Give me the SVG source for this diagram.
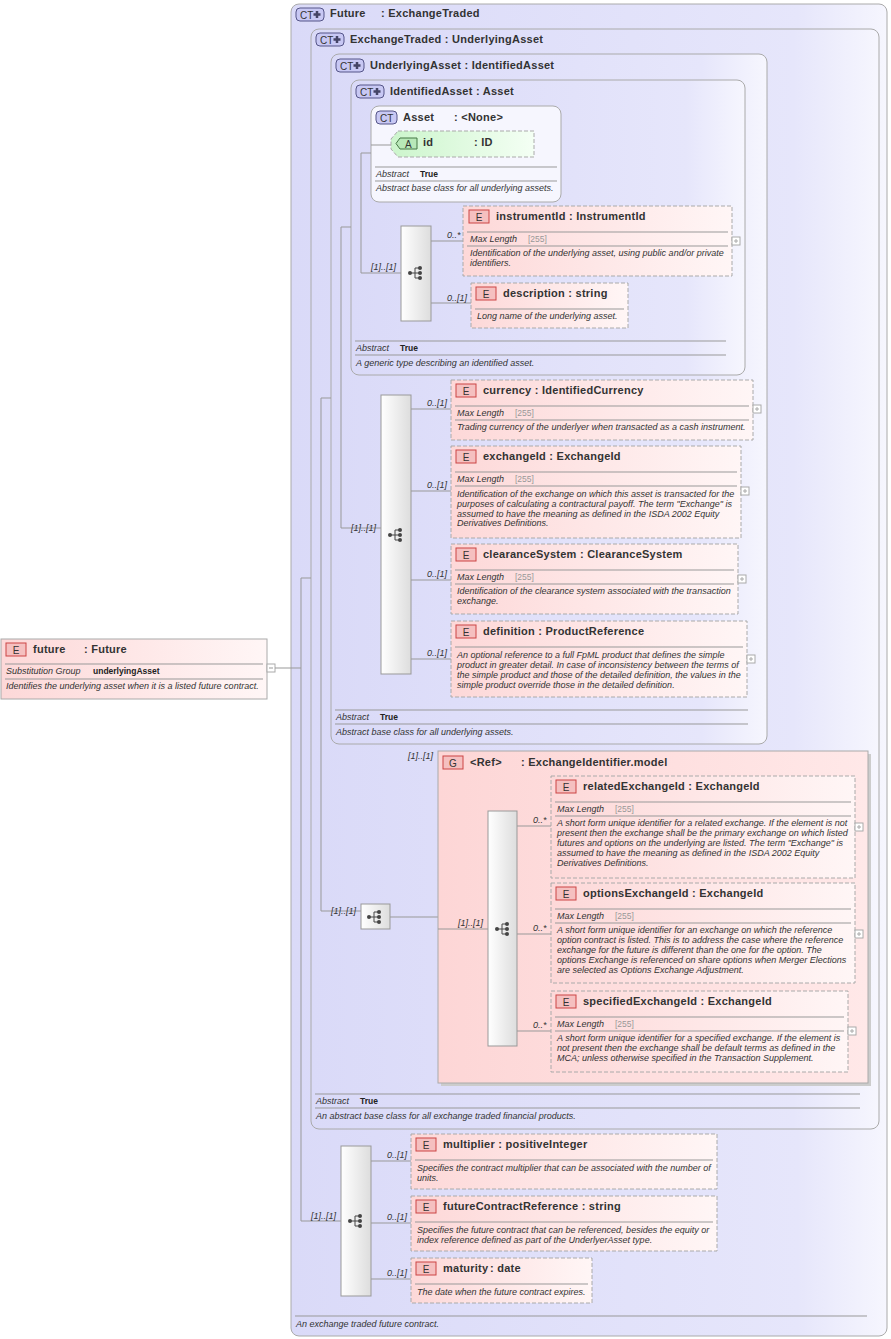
<svg xmlns="http://www.w3.org/2000/svg" xmlns:xlink="http://www.w3.org/1999/xlink" width="891" height="1339" viewBox="0 0 891 1339">
<style>
text{font-family:"Liberation Sans",Arial,sans-serif;fill:#333}
.h{font-size:11px;font-weight:bold;letter-spacing:0.25px}
.s{font-size:9px;font-style:italic}
.b{font-size:8.5px;font-weight:bold;fill:#222}
.g{font-size:8.5px;fill:#999}
.ct{fill:url(#ctg);stroke:#aaa;stroke-width:1}
.el{fill:url(#elg);stroke:#aaa;stroke-width:1;stroke-dasharray:4,2}
.els{fill:url(#elg);stroke:#aaa;stroke-width:1}
.sep{stroke:#999;stroke-width:1}
.cn{stroke:#999;stroke-width:1;fill:none}
.seq{fill:url(#sqg);stroke:#999}
.bd{font-size:10px;fill:#333}
.pl{fill:#fff;stroke:#aaa}
</style>
<defs>
<linearGradient id="ctg" x1="0" x2="1"><stop offset="0" stop-color="#dadaf8"/><stop offset="0.85" stop-color="#e6e6fb"/><stop offset="1" stop-color="#f6f6fe"/></linearGradient>
<linearGradient id="elg" x1="0" x2="1"><stop offset="0" stop-color="#fdd8d8"/><stop offset="1" stop-color="#fff6f6"/></linearGradient>
<linearGradient id="sqg" x1="0" x2="1"><stop offset="0" stop-color="#fff"/><stop offset="1" stop-color="#ddd"/></linearGradient>
<linearGradient id="atg" x1="0" x2="1"><stop offset="0" stop-color="#ccf5cc"/><stop offset="1" stop-color="#f4fff4"/></linearGradient>
<linearGradient id="grg" x1="0" x2="1"><stop offset="0" stop-color="#fdd6d6"/><stop offset="1" stop-color="#ffe8e8"/></linearGradient>
<g id="seqi"><line x1="-6" y1="0" x2="-1" y2="0" stroke="#444"/><line x1="-1" y1="-5" x2="-1" y2="5" stroke="#444"/><line x1="-1" y1="-5" x2="4" y2="-5" stroke="#444"/><line x1="-1" y1="5" x2="4" y2="5" stroke="#444"/><line x1="-1" y1="0" x2="4" y2="0" stroke="#444"/><circle cx="-6" cy="0" r="2" fill="#444"/><circle cx="4" cy="-5" r="2" fill="#444"/><circle cx="4" cy="0" r="2" fill="#444"/><circle cx="4" cy="5" r="2" fill="#444"/></g>
<g id="ebadge"><rect x="0" y="0" width="20" height="13" fill="#f5c0c0" stroke="#c44"/><text x="10" y="10.5" text-anchor="middle" class="bd">E</text></g>
<g id="ctbadge"><rect x="0" y="0" width="28" height="13" rx="4" fill="#c8c8f4" stroke="#558"/><text x="4" y="10.5" class="bd">CT</text><path d="M21 3v7M17.5 6.5h7" stroke="#446" stroke-width="2.5"/></g>
</defs>

<g id="future-el">
<rect x="1" y="639" width="266" height="60" class="els"/>
<use href="#ebadge" x="6" y="643"/>
<text x="33" y="653" class="h">future</text><text x="84" y="653" class="h">: Future</text>
<line x1="5" y1="664" x2="263" y2="664" class="sep"/>
<text x="6" y="674" class="s">Substitution Group</text><text x="93" y="674" class="b">underlyingAsset</text>
<line x1="5" y1="679" x2="263" y2="679" class="sep"/>
<text x="6" y="689" class="s">Identifies the underlying asset when it is a listed future contract.</text>
<rect x="267" y="664" width="8" height="8" class="pl"/><line x1="269" y1="668" x2="273" y2="668" stroke="#999"/>
</g>

<g id="Future-ct">
<rect x="291" y="4" width="596" height="1332" rx="8" class="ct"/>
<use href="#ctbadge" x="296" y="8"/>
<text x="330" y="17" class="h">Future</text><text x="381" y="17" class="h">: ExchangeTraded</text>
<line x1="295" y1="1316" x2="867" y2="1316" class="sep"/>
<text x="296" y="1327" class="s">An exchange traded future contract.</text>
</g>

<g id="ExchangeTraded-ct">
<rect x="311" y="29" width="568" height="1100" rx="8" class="ct"/>
<use href="#ctbadge" x="316" y="33"/>
<text x="350" y="43" class="h">ExchangeTraded : UnderlyingAsset</text>
<line x1="315" y1="1094" x2="860" y2="1094" class="sep"/>
<text x="316" y="1104" class="s">Abstract</text><text x="360" y="1104" class="b">True</text>
<line x1="315" y1="1108" x2="860" y2="1108" class="sep"/>
<text x="316" y="1119" class="s">An abstract base class for all exchange traded financial products.</text>
</g>

<g id="UnderlyingAsset-ct">
<rect x="331" y="54" width="436" height="690" rx="8" class="ct"/>
<use href="#ctbadge" x="336" y="59"/>
<text x="370" y="69" class="h">UnderlyingAsset : IdentifiedAsset</text>
<line x1="335" y1="710" x2="748" y2="710" class="sep"/>
<text x="336" y="720" class="s">Abstract</text><text x="380" y="720" class="b">True</text>
<line x1="335" y1="724" x2="748" y2="724" class="sep"/>
<text x="336" y="735" class="s">Abstract base class for all underlying assets.</text>
</g>

<g id="IdentifiedAsset-ct">
<rect x="351" y="80" width="394" height="295" rx="8" class="ct"/>
<use href="#ctbadge" x="356" y="85"/>
<text x="390" y="95" class="h">IdentifiedAsset : Asset</text>
<line x1="355" y1="341" x2="726" y2="341" class="sep"/>
<text x="356" y="351" class="s">Abstract</text><text x="400" y="351" class="b">True</text>
<line x1="355" y1="355" x2="726" y2="355" class="sep"/>
<text x="356" y="366" class="s">A generic type describing an identified asset.</text>
</g>

<g id="Asset-ct">
<rect x="371" y="106" width="190" height="96" rx="8" fill="#f6f6fe" stroke="#aaa"/>
<rect x="376" y="111" width="21" height="13" rx="4" fill="#c8c8f4" stroke="#558"/><text x="380" y="121.5" class="bd">CT</text>
<text x="403" y="121" class="h">Asset</text><text x="454" y="121" class="h">: &lt;None&gt;</text>
<line x1="375" y1="167" x2="557" y2="167" class="sep"/>
<text x="376" y="177" class="s">Abstract</text><text x="420" y="177" class="b">True</text>
<line x1="375" y1="181" x2="557" y2="181" class="sep"/>
<text x="376" y="191" class="s">Abstract base class for all underlying assets.</text>
</g>

<g id="connectors">
<path class="cn" d="M275 668H301M301 578V1221M301 578H311M301 1221H341"/>
<path class="cn" d="M321 398V911M321 398H331M321 911H361"/>
<path class="cn" d="M341 227V528M341 227H351M341 528H381"/>
<path class="cn" d="M361 153V273M361 153H371M361 273H401M371 145H391"/>
<path class="cn" d="M431 241H463M431 303H471"/>
<path class="cn" d="M411 409H451M411 491H451M411 580H451M411 659H451"/>
<path class="cn" d="M390 917H438M438 929H488M517 826H551M517 934H551M517 1031H551"/>
<path class="cn" d="M371 1161H411M371 1223H411M371 1279H411"/>
</g>

<g id="id-attr">
<path d="M398 131H534V157H398L391 149V139Z" fill="url(#atg)" stroke="#aaa" stroke-dasharray="4,2"/>
<path d="M400 138H417V149H400L396 143.5Z" fill="#b8e8b8" stroke="#474"/>
<text x="405" y="147.5" class="bd">A</text>
<text x="423" y="146" class="h">id</text><text x="474" y="146" class="h">: ID</text>
</g>

<g id="seq1"><rect x="401" y="226" width="30" height="95" class="seq"/><use href="#seqi" x="416" y="273"/><text x="371" y="270" class="s">[1]..[1]</text></g>
<text x="447" y="238" class="s">0..*</text><text x="447" y="301" class="s">0..[1]</text>

<g id="instrumentId">
<rect x="463" y="206" width="269" height="70" class="el"/>
<use href="#ebadge" x="469" y="210"/>
<text x="496" y="220" class="h">instrumentId : InstrumentId</text>
<line x1="467" y1="232" x2="728" y2="232" class="sep"/>
<text x="470" y="242" class="s">Max Length</text><text x="528" y="242" class="g">[255]</text>
<line x1="467" y1="246" x2="728" y2="246" class="sep"/>
<text x="470" y="256" class="s">Identification of the underlying asset, using public and/or private</text>
<text x="470" y="266" class="s">identifiers.</text>
<rect x="732" y="237" width="8" height="8" class="pl"/><path d="M734 241h4M736 239v4" stroke="#aaa"/>
</g>

<g id="description">
<rect x="471" y="283" width="157" height="45" class="el"/>
<use href="#ebadge" x="476" y="287"/>
<text x="503" y="297" class="h">description : string</text>
<line x1="475" y1="309" x2="624" y2="309" class="sep"/>
<text x="477" y="319" class="s">Long name of the underlying asset.</text>
</g>

<g id="seq2"><rect x="381" y="395" width="30" height="279" class="seq"/><use href="#seqi" x="396" y="535"/><text x="351" y="531" class="s">[1]..[1]</text></g>
<text x="427" y="406" class="s">0..[1]</text><text x="427" y="488" class="s">0..[1]</text><text x="427" y="577" class="s">0..[1]</text><text x="427" y="656" class="s">0..[1]</text>

<g id="currency">
<rect x="451" y="380" width="302" height="60" class="el"/>
<use href="#ebadge" x="456" y="384"/>
<text x="483" y="394" class="h">currency : IdentifiedCurrency</text>
<line x1="455" y1="406" x2="749" y2="406" class="sep"/>
<text x="457" y="416" class="s">Max Length</text><text x="515" y="416" class="g">[255]</text>
<line x1="455" y1="420" x2="749" y2="420" class="sep"/>
<text x="457" y="430" class="s">Trading currency of the underlyer when transacted as a cash instrument.</text>
<rect x="753" y="405" width="8" height="8" class="pl"/><path d="M755 409h4M757 407v4" stroke="#aaa"/>
</g>

<g id="exchangeId">
<rect x="451" y="446" width="290" height="92" class="el"/>
<use href="#ebadge" x="456" y="450"/>
<text x="483" y="460" class="h">exchangeId : ExchangeId</text>
<line x1="455" y1="472" x2="737" y2="472" class="sep"/>
<text x="457" y="482" class="s">Max Length</text><text x="515" y="482" class="g">[255]</text>
<line x1="455" y1="486" x2="737" y2="486" class="sep"/>
<text x="457" y="497" class="s">Identification of the exchange on which this asset is transacted for the</text>
<text x="457" y="507" class="s">purposes of calculating a contractural payoff. The term "Exchange" is</text>
<text x="457" y="517" class="s">assumed to have the meaning as defined in the ISDA 2002 Equity</text>
<text x="457" y="526" class="s">Derivatives Definitions.</text>
<rect x="741" y="487" width="8" height="8" class="pl"/><path d="M743 491h4M745 489v4" stroke="#aaa"/>
</g>

<g id="clearanceSystem">
<rect x="451" y="544" width="287" height="70" class="el"/>
<use href="#ebadge" x="456" y="548"/>
<text x="483" y="558" class="h">clearanceSystem : ClearanceSystem</text>
<line x1="455" y1="570" x2="734" y2="570" class="sep"/>
<text x="457" y="580" class="s">Max Length</text><text x="515" y="580" class="g">[255]</text>
<line x1="455" y1="584" x2="734" y2="584" class="sep"/>
<text x="457" y="594" class="s">Identification of the clearance system associated with the transaction</text>
<text x="457" y="604" class="s">exchange.</text>
<rect x="738" y="575" width="8" height="8" class="pl"/><path d="M740 579h4M742 577v4" stroke="#aaa"/>
</g>

<g id="definition">
<rect x="451" y="621" width="296" height="76" class="el"/>
<use href="#ebadge" x="456" y="625"/>
<text x="483" y="635" class="h">definition : ProductReference</text>
<line x1="455" y1="647" x2="743" y2="647" class="sep"/>
<text x="457" y="658" class="s">An optional reference to a full FpML product that defines the simple</text>
<text x="457" y="668" class="s">product in greater detail. In case of inconsistency between the terms of</text>
<text x="457" y="678" class="s">the simple product and those of the detailed definition, the values in the</text>
<text x="457" y="688" class="s">simple product override those in the detailed definition.</text>
<rect x="747" y="655" width="8" height="8" class="pl"/><path d="M749 659h4M751 657v4" stroke="#aaa"/>
</g>

<g id="seq3"><rect x="361" y="904" width="29" height="25" class="seq"/><use href="#seqi" x="375" y="917"/><text x="331" y="914" class="s">[1]..[1]</text></g>

<g id="ExchangeIdentifier-group">
<rect x="441" y="754" width="430" height="332" fill="#ccc"/>
<rect x="438" y="751" width="430" height="332" fill="url(#grg)" stroke="#aaa"/>
<text x="408" y="759" class="s">[1]..[1]</text>
<rect x="443" y="756" width="20" height="13" fill="#f5c0c0" stroke="#c44"/><text x="453" y="766.5" text-anchor="middle" class="bd">G</text>
<text x="470" y="766" class="h">&lt;Ref&gt;</text><text x="521" y="766" class="h">: ExchangeIdentifier.model</text>
<path class="cn" d="M438 929H488"/>
</g>

<g id="seq4"><rect x="488" y="811" width="29" height="235" class="seq"/><use href="#seqi" x="503" y="929"/><text x="458" y="926" class="s">[1]..[1]</text></g>
<path class="cn" d="M517 826H551M517 934H551M517 1031H551"/>
<text x="533" y="823" class="s">0..*</text><text x="533" y="931" class="s">0..*</text><text x="533" y="1028" class="s">0..*</text>

<g id="relatedExchangeId">
<rect x="551" y="776" width="304" height="102" class="el"/>
<use href="#ebadge" x="556" y="780"/>
<text x="583" y="790" class="h">relatedExchangeId : ExchangeId</text>
<line x1="555" y1="802" x2="851" y2="802" class="sep"/>
<text x="557" y="812" class="s">Max Length</text><text x="615" y="812" class="g">[255]</text>
<line x1="555" y1="816" x2="851" y2="816" class="sep"/>
<text x="557" y="826" class="s">A short form unique identifier for a related exchange. If the element is not</text>
<text x="557" y="836" class="s">present then the exchange shall be the primary exchange on which listed</text>
<text x="557" y="846" class="s">futures and options on the underlying are listed. The term "Exchange" is</text>
<text x="557" y="856" class="s">assumed to have the meaning as defined in the ISDA 2002 Equity</text>
<text x="557" y="866" class="s">Derivatives Definitions.</text>
<rect x="855" y="823" width="8" height="8" class="pl"/><path d="M857 827h4M859 825v4" stroke="#aaa"/>
</g>

<g id="optionsExchangeId">
<rect x="551" y="883" width="304" height="100" class="el"/>
<use href="#ebadge" x="556" y="887"/>
<text x="583" y="897" class="h">optionsExchangeId : ExchangeId</text>
<line x1="555" y1="909" x2="851" y2="909" class="sep"/>
<text x="557" y="919" class="s">Max Length</text><text x="615" y="919" class="g">[255]</text>
<line x1="555" y1="923" x2="851" y2="923" class="sep"/>
<text x="557" y="933" class="s">A short form unique identifier for an exchange on which the reference</text>
<text x="557" y="943" class="s">option contract is listed. This is to address the case where the reference</text>
<text x="557" y="953" class="s">exchange for the future is different than the one for the option. The</text>
<text x="557" y="963" class="s">options Exchange is referenced on share options when Merger Elections</text>
<text x="557" y="973" class="s">are selected as Options Exchange Adjustment.</text>
<rect x="855" y="930" width="8" height="8" class="pl"/><path d="M857 934h4M859 932v4" stroke="#aaa"/>
</g>

<g id="specifiedExchangeId">
<rect x="551" y="991" width="297" height="81" class="el"/>
<use href="#ebadge" x="556" y="995"/>
<text x="583" y="1005" class="h">specifiedExchangeId : ExchangeId</text>
<line x1="555" y1="1017" x2="844" y2="1017" class="sep"/>
<text x="557" y="1027" class="s">Max Length</text><text x="615" y="1027" class="g">[255]</text>
<line x1="555" y1="1031" x2="844" y2="1031" class="sep"/>
<text x="557" y="1041" class="s">A short form unique identifier for a specified exchange. If the element is</text>
<text x="557" y="1051" class="s">not present then the exchange shall be default terms as defined in the</text>
<text x="557" y="1061" class="s">MCA; unless otherwise specified in the Transaction Supplement.</text>
<rect x="848" y="1027" width="8" height="8" class="pl"/><path d="M850 1031h4M852 1029v4" stroke="#aaa"/>
</g>

<g id="seq5"><rect x="341" y="1146" width="30" height="150" class="seq"/><use href="#seqi" x="356" y="1221"/><text x="311" y="1219" class="s">[1]..[1]</text></g>
<text x="387" y="1158" class="s">0..[1]</text><text x="387" y="1220" class="s">0..[1]</text><text x="387" y="1276" class="s">0..[1]</text>

<g id="multiplier">
<rect x="411" y="1134" width="306" height="55" class="el"/>
<use href="#ebadge" x="416" y="1138"/>
<text x="443" y="1148" class="h">multiplier : positiveInteger</text>
<line x1="415" y1="1160" x2="713" y2="1160" class="sep"/>
<text x="417" y="1171" class="s">Specifies the contract multiplier that can be associated with the number of</text>
<text x="417" y="1181" class="s">units.</text>
</g>

<g id="futureContractReference">
<rect x="411" y="1196" width="306" height="55" class="el"/>
<use href="#ebadge" x="416" y="1200"/>
<text x="443" y="1210" class="h">futureContractReference : string</text>
<line x1="415" y1="1222" x2="713" y2="1222" class="sep"/>
<text x="417" y="1233" class="s">Specifies the future contract that can be referenced, besides the equity or</text>
<text x="417" y="1243" class="s">index reference defined as part of the UnderlyerAsset type.</text>
</g>

<g id="maturity">
<rect x="411" y="1258" width="181" height="45" class="el"/>
<use href="#ebadge" x="416" y="1262"/>
<text x="443" y="1272" class="h">maturity</text><text x="490" y="1272" class="h">: date</text>
<line x1="415" y1="1284" x2="588" y2="1284" class="sep"/>
<text x="417" y="1295" class="s">The date when the future contract expires.</text>
</g>
</svg>
